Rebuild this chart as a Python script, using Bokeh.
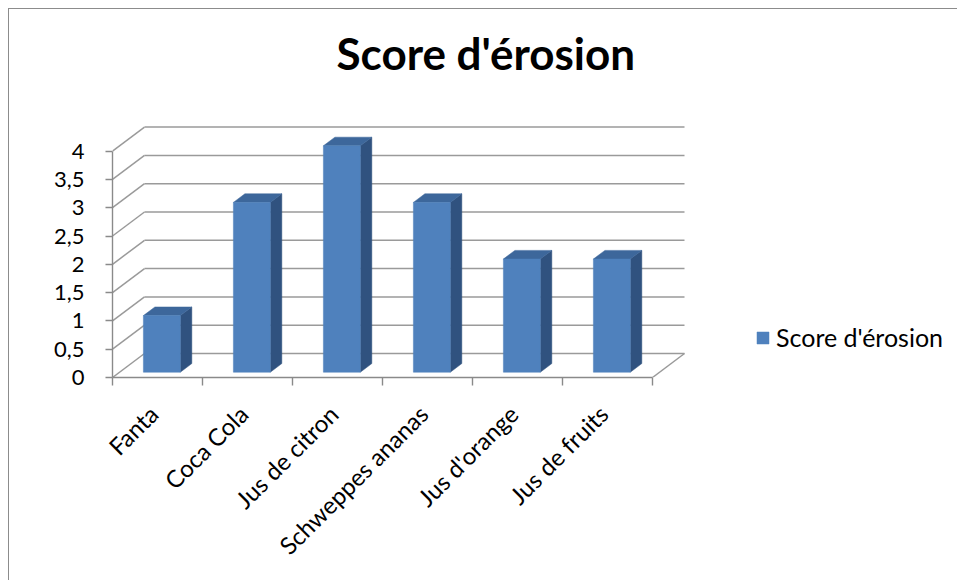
import math
from bokeh.plotting import figure
from bokeh.models import Range1d, FixedTicker, Legend, LegendItem, LinearAxis
from bokeh.embed import file_html
from bokeh.resources import INLINE

# ---- data ----
categories = ["Fanta", "Coca Cola", "Jus de citron", "Schweppes ananas", "Jus d'orange", "Jus de fruits"]
scores = [1, 3, 4, 3, 2, 2]
y_ticks = [0, 0.5, 1, 1.5, 2, 2.5, 3, 3.5, 4]
y_tick_labels = ["0", "0,5", "1", "1,5", "2", "2,5", "3", "3,5", "4"]
series_name = "Score d'érosion"
title_text = "Score d'érosion"

# ---- styling / layout ----
FONT = "Lato"
PX_X = 90.0     # px per category
PX_Y = 56.6     # px per unit
DX = 32 / PX_X  # depth offset (x, data units)
DY = 24 / PX_Y  # depth offset (y, data units)
F0, F1 = 0.22, 0.58   # bar depth extent (fraction of full depth)
BAR_W = 0.41
BAR_SHIFT = -0.03
LABEL_SHIFT = -0.045  # category label anchor nudge (layout only)
W, H = 949, 572
MB_L, MB_R, MB_T, MB_B = 103, 8, 69, 204
GRID_C = "#9a9a9a"
AXIS_C = "#8a8a8a"
FRONT_C = "#4f81bd"
TOP_C = "#3d679b"
SIDE_C = "#30527f"
BORDER_C = "#8c8c8c"

n = len(categories)
x_end = (W - MB_L - MB_R) / PX_X
y_end = (H - MB_T - MB_B) / PX_Y

p = figure(width=W, height=H, output_backend="svg", toolbar_location=None,
           x_range=Range1d(0, x_end), y_range=Range1d(0, y_end),
           min_border_left=MB_L, min_border_right=MB_R,
           min_border_top=MB_T, min_border_bottom=MB_B,
           x_axis_type=None, y_axis_type=None)
p.outline_line_color = None
p.background_fill_color = "white"
p.border_fill_color = "white"
p.grid.visible = False
p.styles = {"margin-left": "8px", "margin-top": "8px",
            "border-left": f"1px solid {BORDER_C}", "border-top": f"1px solid {BORDER_C}"}

# ---- title ----
p.title.text = title_text
p.title.align = "left"
p.title.offset = 224
p.title.standoff = 0
p.title.vertical_align = "bottom"
p.title.text_font = FONT
p.title.text_font_style = "bold"
p.title.text_font_size = "44px"
p.title.text_color = "black"

# ---- walls: back gridlines, side diagonals, floor edge ----
gx0 = [DX for _ in y_ticks]
gx1 = [n + DX for _ in y_ticks]
gy = [t + DY for t in y_ticks]
p.segment(x0=gx0, y0=gy, x1=gx1, y1=gy, line_color=GRID_C, line_width=1.5)
p.segment(x0=[0 for _ in y_ticks], y0=y_ticks, x1=gx0, y1=gy, line_color=GRID_C, line_width=1.5)
p.segment(x0=[n], y0=[0], x1=[n + DX], y1=[DY], line_color=GRID_C, line_width=1.5)

# ---- bars ----
front_xs, front_ys, top_xs, top_ys, side_xs, side_ys = [], [], [], [], [], []
for i, v in enumerate(scores):
    L = i + 0.5 + BAR_SHIFT - BAR_W / 2
    R = i + 0.5 + BAR_SHIFT + BAR_W / 2
    ax0, ay0 = F0 * DX, F0 * DY
    ax1, ay1 = F1 * DX, F1 * DY
    front_xs.append([L + ax0, R + ax0, R + ax0, L + ax0])
    front_ys.append([ay0, ay0, v + ay0, v + ay0])
    top_xs.append([L + ax0, R + ax0, R + ax1, L + ax1])
    top_ys.append([v + ay0, v + ay0, v + ay1, v + ay1])
    side_xs.append([R + ax0, R + ax1, R + ax1, R + ax0])
    side_ys.append([ay0, ay1, v + ay1, v + ay0])

p.patches(xs=side_xs, ys=side_ys, fill_color=SIDE_C, line_color=SIDE_C, line_width=0.5)
p.patches(xs=top_xs, ys=top_ys, fill_color=TOP_C, line_color=TOP_C, line_width=0.5)
front_r = p.patches(xs=front_xs, ys=front_ys, fill_color=FRONT_C, line_color=FRONT_C, line_width=0.5)

# ---- axes ----
yax = LinearAxis(ticker=FixedTicker(ticks=y_ticks, minor_ticks=[]),
                 major_label_overrides={float(t): s for t, s in zip(y_ticks, y_tick_labels)},
                 bounds=(0, max(y_ticks)))
yax.axis_line_color = AXIS_C
yax.axis_line_width = 1.4
yax.major_tick_line_color = AXIS_C
yax.major_tick_line_width = 1.4
yax.major_tick_out = 7
yax.major_tick_in = 0
yax.minor_tick_out = 0
yax.major_label_standoff = 21
yax.major_label_text_font = FONT
yax.major_label_text_font_size = "22px"
yax.major_label_text_color = "black"
p.add_layout(yax, "left")

centers = [i + 0.5 + LABEL_SHIFT for i in range(n)]
xax = LinearAxis(ticker=FixedTicker(ticks=centers, minor_ticks=list(range(n + 1))),
                 major_label_overrides={float(c): s for c, s in zip(centers, categories)},
                 bounds=(0, n))
xax.axis_line_color = AXIS_C
xax.axis_line_width = 1.4
xax.major_tick_out = 0
xax.major_tick_in = 0
xax.minor_tick_line_color = AXIS_C
xax.minor_tick_line_width = 1.4
xax.minor_tick_out = 8
xax.minor_tick_in = 0
xax.major_label_orientation = math.pi / 4
xax.major_label_standoff = 24
xax.major_label_text_font = FONT
xax.major_label_text_font_size = "24px"
xax.major_label_text_color = "black"
p.add_layout(xax, "below")

# ---- legend ----
legend = Legend(items=[LegendItem(label=series_name, renderers=[front_r])],
                location=(643, 25), orientation="vertical")
legend.glyph_width = 15
legend.glyph_height = 15
legend.label_standoff = 6
legend.padding = 0
legend.margin = 0
legend.spacing = 0
legend.border_line_color = None
legend.background_fill_alpha = 0
legend.label_text_font = FONT
legend.label_text_font_size = "25px"
legend.label_text_color = "black"
p.add_layout(legend, "center")

open("out.html", "w").write(file_html(p, INLINE))
